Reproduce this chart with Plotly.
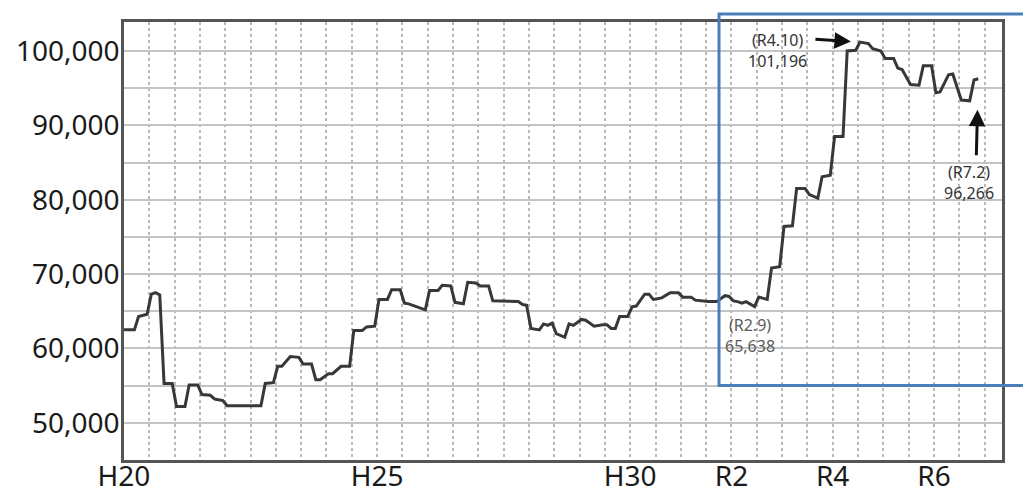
import plotly.graph_objects as go

# ---- data (monthly) ----
months = [
    "2008-03", "2008-04", "2008-06", "2008-07", "2008-08", "2008-09", "2008-10", "2008-11", "2008-12",
    "2009-01", "2009-03", "2009-04", "2009-06", "2009-07", "2009-09", "2009-10", "2009-12",
    "2010-01", "2010-03", "2010-04", "2010-12",
    "2011-01", "2011-03", "2011-04", "2011-05", "2011-07", "2011-09", "2011-10", "2011-12",
    "2012-01", "2012-02", "2012-04", "2012-05", "2012-07", "2012-09", "2012-10", "2012-12",
    "2013-01", "2013-03", "2013-04", "2013-06", "2013-07", "2013-09", "2013-10", "2013-11",
    "2014-01", "2014-03", "2014-04", "2014-06", "2014-07", "2014-09", "2014-10", "2014-12",
    "2015-01", "2015-03", "2015-04", "2015-06", "2015-07", "2015-11",
    "2016-01", "2016-02", "2016-03", "2016-04", "2016-06", "2016-07", "2016-08", "2016-09", "2016-10", "2016-12",
    "2017-01", "2017-02", "2017-04", "2017-05", "2017-07", "2017-09", "2017-10", "2017-11", "2017-12",
    "2018-01", "2018-03", "2018-04", "2018-05", "2018-07", "2018-08", "2018-09", "2018-11",
    "2019-01", "2019-03", "2019-04", "2019-06", "2019-07", "2019-10", "2019-12",
    "2020-02", "2020-03", "2020-04", "2020-05", "2020-06", "2020-07", "2020-09", "2020-10", "2020-12",
    "2021-01", "2021-03", "2021-04", "2021-06", "2021-07", "2021-09", "2021-10", "2021-12",
    "2022-01", "2022-03", "2022-04", "2022-06", "2022-07", "2022-09", "2022-10", "2022-12",
    "2023-01", "2023-03", "2023-04", "2023-06", "2023-07", "2023-08", "2023-10", "2023-12",
    "2024-01", "2024-03", "2024-04", "2024-05", "2024-07", "2024-08", "2024-10", "2024-12",
    "2025-01", "2025-02",
]
values = [
    62500, 62500, 62500, 64300, 64500, 64600, 67300, 67500, 67200,
    55300, 55300, 52200, 52200, 55100, 55100, 53800, 53700,
    53200, 53000, 52300, 52300,
    55300, 55400, 57600, 57600, 58900, 58800, 57900, 57900,
    55800, 55800, 56600, 56600, 57600, 57600, 62400, 62400,
    62900, 63000, 66600, 66600, 67900, 67900, 66100, 66000,
    65600, 65200, 67800, 67800, 68500, 68400, 66200, 66000,
    68900, 68800, 68400, 68400, 66400, 66400,
    66300, 65900, 65800, 62700, 62500, 63300, 63100, 63400, 62000, 61500,
    63300, 63100, 63900, 63800, 63000, 63200, 63200, 62700, 62700,
    64300, 64300, 65600, 65700, 67300, 67300, 66600, 66800,
    67500, 67500, 66900, 66900, 66500, 66300, 66300,
    67100, 67000, 66400, 66300, 66100, 66300, 65638, 66900, 66600,
    70800, 71000, 76400, 76500, 81500, 81500, 80700, 80200,
    83100, 83300, 88500, 88500, 100000, 100100, 101196, 101000,
    100300, 100000, 99000, 99000, 97700, 97500, 95500, 95400,
    98000, 98000, 94400, 94500, 96800, 96900, 93400, 93300,
    96100, 96266,
]

tick_dates = ["2008-04-01", "2013-04-01", "2018-04-01", "2020-04-01", "2022-04-01", "2024-04-01"]
tick_labels = ["H20", "H25", "H30", "R2", "R4", "R6"]
y_ticks = [50000, 60000, 70000, 80000, 90000, 100000]

dates = [m + "-15" for m in months]

fig = go.Figure()
fig.add_trace(go.Scatter(
    x=dates, y=values, mode="lines",
    line=dict(color="#383838", width=3),
    hoverinfo="skip", showlegend=False,
))

# reference points
i_peak = values.index(max(values))
i_last = len(values) - 1
i_r29 = months.index("2020-09")

ann_font = dict(family="Noto Sans, Liberation Sans, sans-serif", size=16, color="#333333")

annotations = [
    # arrows
    dict(x=dates[i_peak], y=values[i_peak], xref="x", yref="y", text="", showarrow=True,
         ax=-46, ay=-3, axref="pixel", ayref="pixel", arrowhead=2, arrowsize=1.1,
         arrowwidth=3, arrowcolor="#111111", standoff=9),
    dict(x=dates[i_last], y=values[i_last], xref="x", yref="y", text="", showarrow=True,
         ax=-2, ay=78, arrowhead=2, arrowsize=1.1, arrowwidth=3,
         arrowcolor="#111111", standoff=31),
    # labels
    dict(x=dates[i_peak], y=values[i_peak], xref="x", yref="y",
         text="(R4.10)<br>101,196", showarrow=False, xshift=-82, yshift=-8,
         font=ann_font, align="center"),
    dict(x=dates[i_last], y=values[i_last], xref="x", yref="y",
         text="(R7.2)<br>96,266", showarrow=False, xshift=-9, yshift=-104,
         font=ann_font, align="center"),
    dict(x=dates[i_r29], y=values[i_r29], xref="x", yref="y",
         text="(R2.9)<br>65,638", showarrow=False, xshift=-5, yshift=-29,
         font=dict(family="Noto Sans, Liberation Sans, sans-serif", size=16, color="#5a5a5a"),
         align="center"),
]

fig.update_layout(
    width=1023, height=493,
    margin=dict(l=124, r=21, t=22, b=33, pad=0, autoexpand=False),
    paper_bgcolor="white", plot_bgcolor="white",
    font=dict(family="Noto Sans, Open Sans, sans-serif", color="#1a1a1a"),
    annotations=annotations,
    shapes=[dict(type="rect", xref="paper", yref="paper",
                 x0=0.6777, x1=1.04, y0=0.170, y1=1.018,
                 line=dict(color="#4a7ebb", width=3), fillcolor="rgba(0,0,0,0)")],
)

fig.update_xaxes(
    type="date", range=["2008-04-01", "2025-08-05"], automargin=False,
    tickmode="array", tickvals=tick_dates, ticktext=tick_labels,
    tickfont=dict(size=28, color="#1a1a1a"),
    ticks="", ticklabelstandoff=-10,
    showgrid=True, gridcolor="#b8b8b8", gridwidth=1.5, griddash="dot",
    minor=dict(dtick="M6", tick0="2008-04-01", showgrid=True,
               gridcolor="#b8b8b8", gridwidth=1.5, griddash="dot", ticks=""),
    showline=True, linecolor="#555555", linewidth=2.5, mirror=True,
    zeroline=False,
)
fig.update_yaxes(
    range=[45000, 103900], automargin=False,
    tickmode="array", tickvals=y_ticks, tickformat=",",
    tickfont=dict(size=28, color="#1a1a1a"),
    ticks="", ticklabelstandoff=-4,
    showgrid=True, gridcolor="#c4c4c4", gridwidth=1.6,
    minor=dict(dtick=5000, tick0=0, showgrid=True, gridcolor="#c4c4c4", gridwidth=1.6, ticks=""),
    showline=True, linecolor="#555555", linewidth=2.5, mirror=True,
    zeroline=False,
)

fig.write_html("out.html")
